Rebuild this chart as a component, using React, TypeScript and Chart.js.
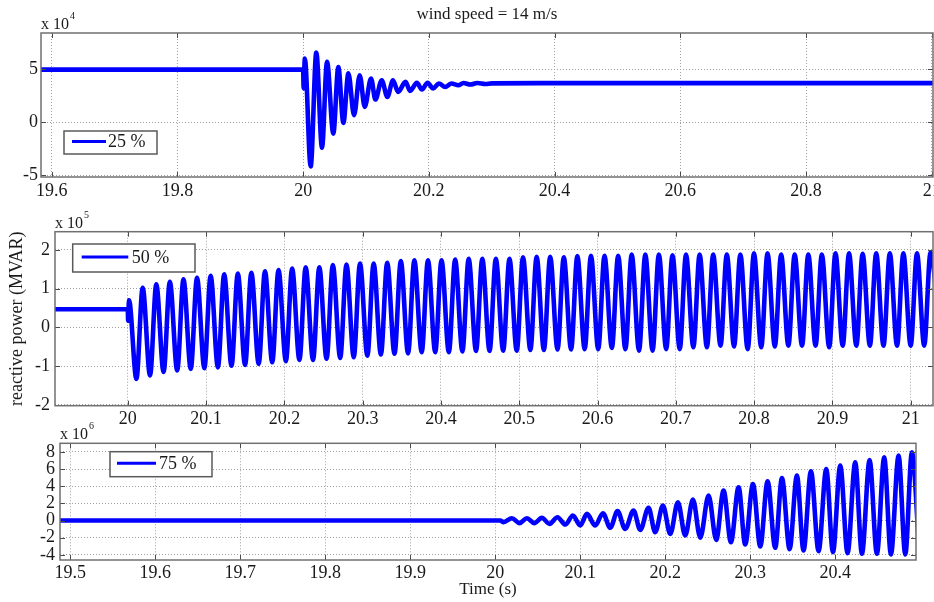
import React, { useEffect, useRef } from 'react';
import { Chart, registerables } from 'chart.js';

Chart.register(...registerables);

const FONT = "'Liberation Serif', 'Times New Roman', serif";
const LINE_COLOR = '#0000ff';

// ---------------- Panel 1 : 25 % (x 10^4) ----------------
const p1Label = '25 %';
const p1XTicks = [19.6, 19.8, 20, 20.2, 20.4, 20.6, 20.8, 21];
const p1YTicks = [-5, 0, 5];
const p1BaseTime = [19.55, 20.0, 20.0008, 20.29, 20.3, 20.4, 21.05];
const p1BaseValue = [4.95, 4.95, 3.2, 3.6, 3.66, 3.68, 3.68];
const p1PeakTime = [20.0027, 20.021, 20.038, 20.056, 20.072, 20.09, 20.108, 20.125, 20.143, 20.163, 20.181, 20.198, 20.216, 20.236, 20.255, 20.277];
const p1PeakValue = [6.0, 6.55, 5.7, 5.2, 4.6, 4.43, 4.12, 3.96, 3.96, 3.8, 3.71, 3.71, 3.65, 3.65, 3.7, 3.7];
const p1TroughTime = [20.012, 20.03, 20.048, 20.064, 20.081, 20.098, 20.115, 20.134, 20.151, 20.17, 20.189, 20.207, 20.226, 20.247, 20.266];
const p1TroughValue = [-4.15, -2.4, -1.07, -0.06, 0.66, 1.45, 2.14, 2.39, 2.86, 2.95, 3.08, 3.18, 3.33, 3.49, 3.55];

// ---------------- Panel 2 : 50 % (x 10^5) ----------------
const p2Label = '50 %';
const p2XTicks = [20, 20.1, 20.2, 20.3, 20.4, 20.5, 20.6, 20.7, 20.8, 20.9, 21];
const p2YTicks = [-2, -1, 0, 1, 2];
const p2BaseTime = [19.85, 20.0, 20.0004, 20.0015, 21.036];
const p2BaseValue = [0.47, 0.47, 0.17, 0.7, 0.2];
const p2PeakTime = [
  20.019, 20.0364, 20.0537, 20.0711, 20.0884, 20.1058, 20.1231, 20.1405, 20.1578, 20.1752,
  20.1925, 20.2099, 20.2272, 20.2446, 20.2619, 20.2793, 20.2966, 20.314, 20.3313, 20.3487,
  20.366, 20.3834, 20.4007, 20.4181, 20.4354, 20.4528, 20.4701, 20.4875, 20.5048, 20.5222,
  20.5395, 20.5569, 20.5742, 20.5916, 20.6089, 20.6263, 20.6436, 20.661, 20.6783, 20.6957,
  20.713, 20.7304, 20.7477, 20.7651, 20.7824, 20.7998, 20.8171, 20.8345, 20.8518, 20.8692,
  20.8865, 20.9039, 20.9212, 20.9386, 20.9559, 20.9733, 20.9906, 21.008, 21.0253,
];
const p2PeakValue = [
  1.02, 1.11, 1.18, 1.24, 1.28, 1.33, 1.37, 1.39, 1.41, 1.45,
  1.48, 1.52, 1.55, 1.55, 1.61, 1.62, 1.65, 1.65, 1.67, 1.71,
  1.73, 1.73, 1.73, 1.75, 1.77, 1.77, 1.77, 1.77, 1.81, 1.82,
  1.82, 1.81, 1.84, 1.85, 1.85, 1.85, 1.88, 1.88, 1.88, 1.86,
  1.88, 1.88, 1.88, 1.88, 1.88, 1.91, 1.91, 1.88, 1.88, 1.88,
  1.88, 1.91, 1.91, 1.9, 1.91, 1.91, 1.91, 1.91, 1.93,
];
const p2TroughTime = [
  20.011, 20.0284, 20.0457, 20.0631, 20.0804, 20.0978, 20.1151, 20.1325, 20.1498, 20.1672,
  20.1845, 20.2019, 20.2192, 20.2366, 20.2539, 20.2713, 20.2886, 20.306, 20.3233, 20.3407,
  20.358, 20.3754, 20.3927, 20.4101, 20.4274, 20.4448, 20.4621, 20.4795, 20.4968, 20.5142,
  20.5315, 20.5489, 20.5662, 20.5836, 20.6009, 20.6183, 20.6356, 20.653, 20.6703, 20.6877,
  20.705, 20.7224, 20.7397, 20.7571, 20.7744, 20.7918, 20.8091, 20.8265, 20.8438, 20.8612,
  20.8785, 20.8959, 20.9132, 20.9306, 20.9479, 20.9653, 20.9826, 21.0, 21.0173,
];
const p2TroughValue = [
  -1.33, -1.24, -1.15, -1.11, -1.07, -1.05, -1.03, -0.99, -0.97, -0.94,
  -0.9, -0.87, -0.84, -0.84, -0.81, -0.79, -0.77, -0.73, -0.7, -0.68,
  -0.67, -0.64, -0.64, -0.64, -0.62, -0.61, -0.61, -0.6, -0.6, -0.58,
  -0.58, -0.57, -0.57, -0.56, -0.56, -0.53, -0.56, -0.6, -0.6, -0.56,
  -0.56, -0.51, -0.51, -0.47, -0.49, -0.56, -0.51, -0.49, -0.47, -0.47,
  -0.47, -0.51, -0.47, -0.47, -0.47, -0.47, -0.47, -0.47, -0.47,
];

// ---------------- Panel 3 : 75 % (x 10^6) ----------------
const p3Label = '75 %';
const p3XTicks = [19.5, 19.6, 19.7, 19.8, 19.9, 20, 20.1, 20.2, 20.3, 20.4];
const p3YTicks = [-4, -2, 0, 2, 4, 6, 8];
const p3BaseTime = [19.45, 20.006, 20.0098];
const p3BaseValue = [0, 0, -0.19];
const p3PeakTime = [
  20.0196, 20.0373, 20.0549, 20.0733, 20.0914, 20.1079, 20.1267, 20.1439, 20.1627, 20.1804,
  20.1973, 20.2149, 20.2326, 20.251, 20.2686, 20.2863, 20.3032, 20.3204, 20.3373, 20.3549,
  20.3714, 20.3894, 20.4059, 20.4235, 20.4404, 20.4576, 20.4745, 20.4902,
];
const p3PeakValue = [
  0.27, 0.27, 0.31, 0.39, 0.58, 0.78, 0.85, 1.09, 1.16, 1.47,
  1.74, 2.13, 2.45, 2.9, 3.49, 3.88, 4.26, 4.57, 4.96, 5.23,
  5.74, 6.0, 6.4, 6.78, 7.05, 7.36, 7.56, 7.94,
];
const p3TroughTime = [
  20.0286, 20.0459, 20.0639, 20.0824, 20.1, 20.1176, 20.1353, 20.1529, 20.1706, 20.1882,
  20.2059, 20.2235, 20.2412, 20.26, 20.2773, 20.2941, 20.3118, 20.3294, 20.3463, 20.3627,
  20.3804, 20.3973, 20.4145, 20.4314, 20.449, 20.4655, 20.4824, 20.499,
];
const p3TroughValue = [
  -0.31, -0.31, -0.39, -0.47, -0.58, -0.58, -0.85, -0.97, -1.09, -1.36,
  -1.55, -1.74, -2.0, -2.25, -2.52, -2.79, -3.02, -3.18, -3.33, -3.49,
  -3.57, -3.68, -3.8, -3.88, -3.88, -3.95, -3.95, -3.95,
];

const TITLE = 'wind speed = 14 m/s';
const Y_TITLE = 'reactive power (MVAR)';
const X_TITLE = 'Time (s)';

function buildPoints(lists: [number[], number[]][]) {
  const pts: { x: number; y: number }[] = [];
  for (const [t, v] of lists) {
    for (let i = 0; i < t.length; i++) pts.push({ x: t[i], y: v[i] });
  }
  pts.sort((a, b) => a.x - b.x);
  return pts;
}

type PanelCfg = {
  key: string;
  label: string;
  points: { x: number; y: number }[];
  canvasTop: number;
  canvasHeight: number;
  area: { left: number; top: number; right: number; bottom: number };
  xMin: number; xMax: number; yMin: number; yMax: number;
  xTicks: number[]; yTicks: number[];
  exponent: string;
  legend: { x: number; y: number; w: number; h: number; l1: number; l2: number; tx: number };
  xPad: number; yPad: number;
  showTitle?: boolean; showYTitle?: boolean; showXTitle?: boolean;
};

const panels: PanelCfg[] = [
  {
    key: 'p1', label: p1Label,
    points: buildPoints([[p1BaseTime, p1BaseValue], [p1PeakTime, p1PeakValue], [p1TroughTime, p1TroughValue]]),
    canvasTop: 0, canvasHeight: 205,
    area: { left: 41, top: 33, right: 933, bottom: 177 },
    xMin: 19.583, xMax: 21.002, yMin: -5.15, yMax: 8.4,
    xTicks: p1XTicks, yTicks: p1YTicks, exponent: '4',
    legend: { x: 64, y: 131, w: 93, h: 23, l1: 8, l2: 42, tx: 44 },
    xPad: 3, yPad: 3, showTitle: true,
  },
  {
    key: 'p2', label: p2Label,
    points: buildPoints([[p2BaseTime, p2BaseValue], [p2PeakTime, p2PeakValue], [p2TroughTime, p2TroughValue]]),
    canvasTop: 200, canvasHeight: 232,
    area: { left: 55, top: 231.7, right: 933, bottom: 405.7 },
    xMin: 19.907, xMax: 21.0285, yMin: -2.02, yMax: 2.47,
    xTicks: p2XTicks, yTicks: p2YTicks, exponent: '5',
    legend: { x: 72.7, y: 244, w: 122.3, h: 28, l1: 9, l2: 55.6, tx: 59 },
    xPad: 3, yPad: 5, showYTitle: true,
  },
  {
    key: 'p3', label: p3Label,
    points: buildPoints([[p3BaseTime, p3BaseValue], [p3PeakTime, p3PeakValue], [p3TroughTime, p3TroughValue]]),
    canvasTop: 410, canvasHeight: 192,
    area: { left: 60, top: 443.3, right: 916, bottom: 560 },
    xMin: 19.488, xMax: 20.495, yMin: -4.6, yMax: 9.0,
    xTicks: p3XTicks, yTicks: p3YTicks, exponent: '6',
    legend: { x: 110, y: 451.7, w: 102, h: 25, l1: 7, l2: 46, tx: 49 },
    xPad: 2, yPad: 5, showXTitle: true,
  },
];

function makeFramePlugin(p: PanelCfg) {
  return {
    id: 'frame_' + p.key,
    afterDraw(chart: any) {
      const { ctx, chartArea: a, scales } = chart;
      const xs = scales.x;
      const ys = scales.y;
      ctx.save();
      // inward tick marks
      ctx.strokeStyle = '#4a4a4a';
      ctx.lineWidth = 1;
      ctx.beginPath();
      const TL = 5;
      for (const v of p.xTicks) {
        const px = Math.round(xs.getPixelForValue(v)) + 0.5;
        ctx.moveTo(px, a.bottom); ctx.lineTo(px, a.bottom - TL);
        ctx.moveTo(px, a.top); ctx.lineTo(px, a.top + TL);
      }
      for (const v of p.yTicks) {
        const py = Math.round(ys.getPixelForValue(v)) + 0.5;
        ctx.moveTo(a.left, py); ctx.lineTo(a.left + TL, py);
        ctx.moveTo(a.right, py); ctx.lineTo(a.right - TL, py);
      }
      ctx.stroke();
      // box
      ctx.strokeStyle = '#707070';
      ctx.lineWidth = 1.5;
      ctx.strokeRect(a.left, a.top, a.right - a.left, a.bottom - a.top);

      // legend
      const L = p.legend;
      const ly = L.y - p.canvasTop;
      ctx.fillStyle = '#ffffff';
      ctx.fillRect(L.x, ly, L.w, L.h);
      ctx.strokeStyle = '#5a5a5a';
      ctx.lineWidth = 1.5;
      ctx.strokeRect(L.x, ly, L.w, L.h);
      ctx.strokeStyle = LINE_COLOR;
      ctx.lineWidth = 3;
      ctx.beginPath();
      const midY = ly + L.h / 2;
      ctx.moveTo(L.x + L.l1, midY - 1);
      ctx.lineTo(L.x + L.l2, midY - 1);
      ctx.stroke();
      ctx.fillStyle = '#1a1a1a';
      ctx.font = `18px ${FONT}`;
      ctx.textAlign = 'left';
      ctx.textBaseline = 'middle';
      ctx.fillText(p.label, L.x + L.tx, midY);

      // exponent "x 10^n"
      ctx.textBaseline = 'alphabetic';
      ctx.font = `16px ${FONT}`;
      const bx = a.left;
      const by = a.top - 4;
      ctx.fillText('x 10', bx, by);
      const w = ctx.measureText('x 10').width;
      ctx.font = `10px ${FONT}`;
      ctx.fillText(p.exponent, bx + w + 1, by - 10);

      if (p.showTitle) {
        ctx.font = `17px ${FONT}`;
        ctx.textAlign = 'center';
        ctx.fillText(TITLE, 487, 19);
      }
      ctx.restore();
    },
  };
}

function makeConfig(p: PanelCfg): any {
  const W = 934;
  const tickFont = { family: FONT, size: 18 };
  return {
    type: 'line',
    data: {
      datasets: [
        {
          label: p.label,
          data: p.points,
          borderColor: LINE_COLOR,
          backgroundColor: LINE_COLOR,
          borderWidth: 4.6,
          pointRadius: 0,
          fill: false,
          cubicInterpolationMode: 'monotone',
          borderJoinStyle: 'round',
          borderCapStyle: 'round',
        },
      ],
    },
    options: {
      animation: false,
      responsive: false,
      events: [],
      layout: { padding: { top: p.area.top - p.canvasTop, right: W - p.area.right, left: 0, bottom: 0 } },
      plugins: { legend: { display: false }, tooltip: { enabled: false }, title: { display: false } },
      scales: {
        x: {
          type: 'linear',
          position: 'bottom',
          min: p.xMin,
          max: p.xMax,
          afterBuildTicks: (s: any) => { s.ticks = p.xTicks.map((v) => ({ value: v })); },
          afterFit: (s: any) => {
            s.height = p.canvasHeight - (p.area.bottom - p.canvasTop);
            s.paddingLeft = 0; s.paddingRight = 0; s.paddingTop = 0; s.paddingBottom = 0;
          },
          ticks: {
            font: tickFont, color: '#1a1a1a', padding: p.xPad, maxRotation: 0, minRotation: 0,
            autoSkip: false, callback: (v: number) => String(v),
          },
          grid: { color: '#a0a0a0', lineWidth: 1, drawTicks: false },
          border: { display: false, dash: [1, 2] },
          title: {
            display: !!p.showXTitle, text: X_TITLE, color: '#1a1a1a',
            font: { family: FONT, size: 17 }, padding: { top: 0, bottom: 2 },
          },
        },
        y: {
          type: 'linear',
          min: p.yMin,
          max: p.yMax,
          afterBuildTicks: (s: any) => { s.ticks = p.yTicks.map((v) => ({ value: v })); },
          afterFit: (s: any) => {
            s.width = p.area.left;
            s.paddingTop = 0; s.paddingBottom = 0; s.paddingLeft = 0; s.paddingRight = 0;
          },
          ticks: { font: tickFont, color: '#1a1a1a', padding: p.yPad, autoSkip: false, callback: (v: number) => String(v) },
          grid: { color: '#a0a0a0', lineWidth: 1, drawTicks: false },
          border: { display: false, dash: [1, 2] },
          title: {
            display: !!p.showYTitle, text: Y_TITLE, color: '#1a1a1a',
            font: { family: FONT, size: 18 }, padding: { top: 6, bottom: 0 },
          },
        },
      },
    },
    plugins: [makeFramePlugin(p)],
  };
}

export default function App() {
  const r1 = useRef<HTMLCanvasElement>(null);
  const r2 = useRef<HTMLCanvasElement>(null);
  const r3 = useRef<HTMLCanvasElement>(null);
  const refs = [r1, r2, r3];

  useEffect(() => {
    const charts = panels.map((p, i) => new Chart(refs[i].current as HTMLCanvasElement, makeConfig(p)));
    return () => charts.forEach((c) => c.destroy());
  }, []);

  return (
    <div style={{ position: 'absolute', left: 0, top: 0, width: 934, height: 602, background: '#ffffff', overflow: 'hidden' }}>
      {panels.map((p, i) => (
        <canvas
          key={p.key}
          ref={refs[i]}
          width={934}
          height={p.canvasHeight}
          style={{ position: 'absolute', left: 0, top: p.canvasTop, width: 934, height: p.canvasHeight }}
        />
      ))}
    </div>
  );
}
